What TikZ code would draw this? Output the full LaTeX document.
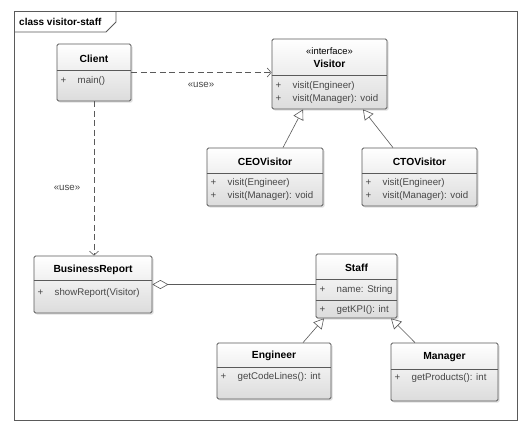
\documentclass[tikz,border=0pt]{standalone}
\usepackage{fontspec}
\setmainfont{Liberation Sans}
\usetikzlibrary{arrows.meta,fit,shadows}
\definecolor{umledge}{HTML}{5A5A5A}
\definecolor{umltext}{HTML}{474747}
\definecolor{umlfill}{HTML}{DCDCDC}
\newcommand{\mem}[1]{\makebox[17pt][l]{+}#1}
\tikzset{
    uc box/.style={draw=umledge, thick, rounded corners=1.5pt, inner sep=0pt,
                   top color=white, bottom color=umlfill,
                   drop shadow={shadow xshift=1.5pt, shadow yshift=-1.5pt, opacity=0.25}},
    uc sep/.style={draw=umledge, semithick},
    uc title/.style={font=\fontsize{10.3}{12}\selectfont\bfseries, inner sep=0pt},
    uc stereo/.style={font=\fontsize{9.4}{11}\selectfont, inner sep=0pt},
    uc mem/.style={font=\fontsize{9.7}{11}\selectfont, text=umltext, anchor=west, inner sep=0pt},
    uc use/.style={umledge, semithick, dash pattern=on 6pt off 3.5pt,
                   -{Straight Barb[length=4pt, width=9pt]}},
    uc gen/.style={umledge, semithick, -{Triangle[open, length=10pt, width=11pt, fill=white]}},
    uc agg/.style={umledge, semithick, {Diamond[open, length=16pt, width=9pt, fill=white]}-},
    uc lbl/.style={font=\fontsize{9.7}{11}\selectfont, text=umltext, inner sep=1pt},
    uc frame/.style={draw=umledge, thick},
}

\begin{document}
\begin{tikzpicture}[x=1pt, y=-1pt]
    \useasboundingbox[fill=white] (0,0) rectangle (531,434);
    % Frame
    \draw[uc frame] (14,11) rectangle (517,420);
    \draw[uc frame] (14,32) -- (106,32) -- (116,22) -- (116,11);
    \node[uc title, anchor=west, font=\fontsize{10}{12}\selectfont\bfseries]
        (frame) at (19,21.5) {class visitor-staff};
    % Client
    \node[uc box, fit={(57,44) (131,101)}] (client) {};
    \draw[uc sep] (client.west |- 0,70) -- (client.east |- 0,70);
    \node[uc title] (client t) at (94,58.5) {Client};
    \node[uc mem] (client m1) at (60.5,81) {\mem{main()}};
    % Visitor
    \node[uc box, fit={(272,39) (387,109)}] (visitor) {};
    \draw[uc sep] (visitor.west |- 0,75) -- (visitor.east |- 0,75);
    \node[uc stereo] (visitor s) at (329.5,51.5) {«interface»};
    \node[uc title] (visitor t) at (329.5,64) {Visitor};
    \node[uc mem] (visitor m1) at (275.5,86) {\mem{visit(Engineer)}};
    \node[uc mem] (visitor m2) at (275.5,99) {\mem{visit(Manager): void}};
    % CEOVisitor
    \node[uc box, fit={(207,148) (323,206)}] (ceo) {};
    \draw[uc sep] (ceo.west |- 0,173) -- (ceo.east |- 0,173);
    \node[uc title] (ceo t) at (265,161.5) {CEOVisitor};
    \node[uc mem] (ceo m1) at (210.5,183) {\mem{visit(Engineer)}};
    \node[uc mem] (ceo m2) at (210.5,196) {\mem{visit(Manager): void}};
    % CTOVisitor
    \node[uc box, fit={(362,148) (477,206)}] (cto) {};
    \draw[uc sep] (cto.west |- 0,173) -- (cto.east |- 0,173);
    \node[uc title] (cto t) at (419.5,161.5) {CTOVisitor};
    \node[uc mem] (cto m1) at (365.5,183) {\mem{visit(Engineer)}};
    \node[uc mem] (cto m2) at (365.5,196) {\mem{visit(Manager): void}};
    % BusinessReport
    \node[uc box, fit={(34,256) (152,313)}] (report) {};
    \draw[uc sep] (report.west |- 0,280) -- (report.east |- 0,280);
    \node[uc title] (report t) at (93,270) {BusinessReport};
    \node[uc mem] (report m1) at (37.5,293) {\mem{showReport(Visitor)}};
    % Staff
    \node[uc box, fit={(316,254) (397,318)}] (staff) {};
    \draw[uc sep] (staff.west |- 0,279) -- (staff.east |- 0,279);
    \draw[uc sep] (staff.west |- 0,300) -- (staff.east |- 0,300);
    \node[uc title] (staff t) at (356.5,268) {Staff};
    \node[uc mem] (staff m1) at (319.5,289.5) {\mem{name: String}};
    \node[uc mem] (staff m2) at (319.5,310) {\mem{getKPI(): int}};
    % Engineer
    \node[uc box, fit={(217,343) (331,399)}] (engineer) {};
    \draw[uc sep] (engineer.west |- 0,367) -- (engineer.east |- 0,367);
    \node[uc title] (engineer t) at (274,356) {Engineer};
    \node[uc mem] (engineer m1) at (220.5,377) {\mem{getCodeLines(): int}};
    % Manager
    \node[uc box, fit={(391,343) (498,401)}] (manager) {};
    \draw[uc sep] (manager.west |- 0,369) -- (manager.east |- 0,369);
    \node[uc title] (manager t) at (444.5,357) {Manager};
    \node[uc mem] (manager m1) at (394.5,378) {\mem{getProducts(): int}};
    % Dependencies
    \draw[uc use] (client.east) -- (client.east -| visitor.west);
    \node[uc lbl] (use1) at (201,85) {«use»};
    \draw[uc use] (client.south) -- (client.south |- report.north);
    \node[uc lbl] (use2) at (67,188) {«use»};
    % Generalizations
    \draw[uc gen] ([xshift=18pt]ceo.north) -- ([xshift=-26.5pt]visitor.south);
    \draw[uc gen] ([xshift=-26.5pt]cto.north) -- ([xshift=33.5pt]visitor.south);
    \draw[uc gen] ([xshift=29pt]engineer.north) -- ([xshift=-32.5pt]staff.south);
    \draw[uc gen] ([xshift=-29.5pt]manager.north) -- ([xshift=34.5pt]staff.south);
    % Aggregation
    \draw[uc agg] (report.east) -- (report.east -| staff.west);
\end{tikzpicture}
\end{document}
